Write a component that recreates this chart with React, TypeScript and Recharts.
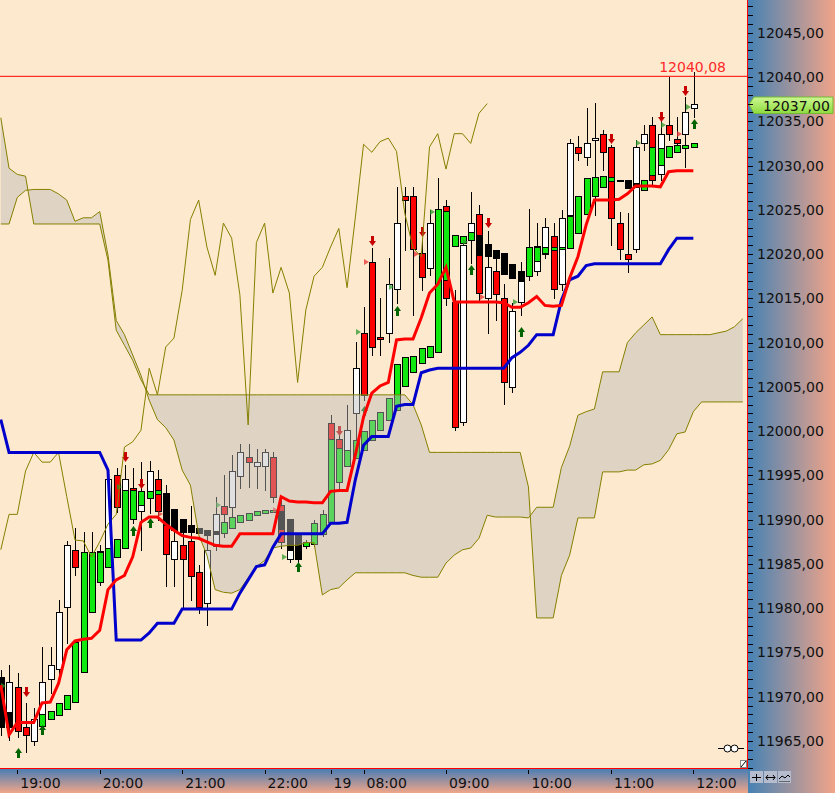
import React from 'react'
import { ComposedChart, Bar, Line, Area, XAxis, YAxis, ReferenceLine } from 'recharts'

const FONT = '"DejaVu Sans", Verdana, sans-serif'
const PLOT_BG = '#fde9cd'

// regular candles, one bar per 6 minutes
const opens = [
  11971.5, 11968.3, 11971.1, 11966.6, 11965.0, 11968.0, 11972.0, 11973.1, 11980.1, 11986.6,
  11979.8, 11982.1, 11986.0, 11986.3, 11995.0, 11993.3, 11993.6, 11991.0, 11992.4, 11994.6,
  11992.8, 11985.6, 11987.1, 11987.6, 11984.1, 11980.6, 11987.0, 11991.5, 11991.4, 11994.9,
  11997.1, 11996.1, 11996.1, 11997.1, 11991.7, 11985.6, 11987.7, 11987.0, 11987.2, 11988.4,
  12000.9, 11999.1, 11997.9, 12002.0, 12011.1, 12019.1, 12010.6, 12011.1, 12016.1, 12026.6,
  12026.6, 12020.1, 12018.4, 12020.5, 12025.4, 12014.6, 12001.0, 12021.6, 12024.5, 12015.0,
  12018.1, 12015.0, 12005.0, 12014.6, 12017.6, 12018.1, 12020.0, 12022.0, 12016.6, 12024.4,
  12032.1, 12031.0, 12032.9, 12033.6, 12032.1, 12023.5, 12020.0, 12020.6, 12032.5, 12034.6,
  12029.0, 12034.6, 12033.0, 12033.6, 12036.5,
]
const highs = [
  11973.0, 11973.6, 11972.7, 11969.3, 11968.7, 11975.6, 11975.6, 11980.9, 11987.6, 11989.1,
  11988.6, 11988.6, 11987.1, 11995.6, 11995.8, 11996.2, 11995.8, 11996.5, 11996.6, 11995.6,
  11993.9, 11988.8, 11988.8, 11991.5, 11984.9, 11988.8, 11992.6, 11995.0, 11997.3, 11998.5,
  11998.5, 11998.0, 11998.0, 11997.6, 11992.4, 11987.7, 11988.3, 11987.7, 11990.0, 11991.1,
  12001.8, 12000.1, 12003.0, 12010.1, 12014.0, 12020.7, 12015.0, 12019.6, 12027.6, 12027.6,
  12027.6, 12021.6, 12025.0, 12028.6, 12026.1, 12015.9, 12021.6, 12027.0, 12025.5, 12022.6,
  12019.7, 12016.6, 12014.5, 12019.1, 12025.1, 12023.5, 12024.1, 12023.5, 12025.0, 12033.0,
  12033.3, 12036.5, 12037.1, 12034.0, 12032.3, 12024.8, 12024.6, 12032.9, 12034.6, 12035.5,
  12035.4, 12040.0, 12035.5, 12037.7, 12040.6,
]
const lows = [
  11965.7, 11965.1, 11965.4, 11963.8, 11964.5, 11967.8, 11970.4, 11971.9, 11976.1, 11983.7,
  11979.2, 11980.9, 11982.6, 11985.4, 11990.9, 11992.8, 11989.6, 11986.6, 11990.8, 11990.0,
  11982.5, 11982.5, 11980.0, 11980.9, 11979.5, 11978.1, 11986.6, 11988.0, 11990.0, 11993.6,
  11993.7, 11993.6, 11993.3, 11992.0, 11986.8, 11985.2, 11985.2, 11986.8, 11987.0, 11988.2,
  11997.9, 11993.3, 11997.3, 11999.0, 12003.5, 12008.6, 12008.6, 12010.1, 12014.5, 12020.5,
  12013.1, 12015.9, 12017.6, 12019.3, 12014.2, 12000.1, 12000.7, 12019.0, 12014.8, 12011.1,
  12012.6, 12003.1, 12004.4, 12013.1, 12017.1, 12017.6, 12019.6, 12015.0, 12015.9, 12023.8,
  12030.6, 12030.1, 12024.4, 12029.5, 12021.0, 12019.4, 12018.0, 12020.2, 12031.8, 12027.8,
  12028.4, 12032.9, 12031.8, 12029.8, 12035.5,
]
const closes = [
  11966.8, 11971.7, 11966.1, 11965.7, 11967.5, 11971.7, 11973.6, 11979.6, 11987.1, 11984.7,
  11986.0, 11986.0, 11986.5, 11994.6, 11991.4, 11994.6, 11993.3, 11993.2, 11995.5, 11991.0,
  11986.1, 11987.6, 11985.6, 11983.6, 11980.1, 11986.6, 11990.6, 11990.6, 11995.5, 11997.6,
  11996.5, 11996.5, 11997.6, 11992.6, 11987.5, 11986.8, 11985.8, 11987.4, 11989.5, 11990.6,
  11998.2, 11998.1, 12000.1, 12007.1, 12004.1, 12009.5, 12010.4, 12016.6, 12023.5, 12026.1,
  12020.6, 12017.4, 12023.5, 12021.8, 12015.0, 12000.5, 12021.0, 12023.5, 12015.6, 12018.5,
  12015.5, 12005.5, 12013.6, 12017.5, 12018.5, 12020.9, 12023.1, 12016.1, 12024.1, 12032.5,
  12031.4, 12032.5, 12033.1, 12031.5, 12024.1, 12020.6, 12019.4, 12032.1, 12033.6, 12028.4,
  12033.6, 12033.6, 12032.5, 12036.0, 12037.0,
]

// smoothed (heikin-ashi) bodies drawn over the candles, green up / black down
const haOpen = [
  11972.2, 11968.3, null, null, null, 11966.7, 11967.5, 11967.9, 11968.6, 11969.4,
  11972.8, 11979.6, 11983.0, 11984.7, 11985.8, 11986.8, 11990.1, 11991.7, 11992.4, 11992.9,
  11993.0, 11991.2, 11990.1, 11989.4, 11989.1, 11988.8, 11988.7, 11988.5, 11989.1, 11989.7,
  11990.0, 11990.5, 11990.8, 11990.9, 11991.0, 11990.1, 11988.3, 11987.0, 11987.2, 11988.4,
  11989.7, 11994.3, 11996.1, 11997.0, 11997.9, 11999.0, 12000.1, 12001.3, 12002.4, 12005.1,
  12006.7, 12007.7, 12008.4, 12008.9, 12017.1, 12020.9, 12021.3, 12021.6, 12022.2, 12021.1,
  12020.5, 12020.1, 12018.9, 12018.1, 12017.5, 12019.2, 12020.1, 12020.5, 12020.6, 12020.7,
  12022.4, 12024.5, 12026.6, 12027.6, 12028.3, 12028.4, 12028.4, 12028.0, 12027.2, 12028.9,
  12030.1, 12031.0, 12031.5, 12032.0, 12032.1,
]
const haClose = [
  11966.6, 11966.6, null, null, null, 11968.0, 11968.4, 11969.3, 11970.2, 11976.2,
  11986.3, 11986.3, 11986.3, 11986.8, 11987.8, 11993.3, 11993.3, 11993.2, 11993.2, 11993.3,
  11989.4, 11988.8, 11988.6, 11988.6, 11988.5, 11988.3, 11988.4, 11989.7, 11990.3, 11990.5,
  11990.8, 11991.0, 11991.1, 11991.1, 11988.9, 11986.6, 11985.6, 11987.5, 11989.6, 11990.6,
  11999.1, 11998.1, 11997.9, 11999.0, 12000.0, 12001.3, 12002.2, 12003.7, 12007.6, 12008.4,
  12008.5, 12009.4, 12009.6, 12025.1, 12024.9, 12022.2, 12022.0, 12022.5, 12019.9, 12019.8,
  12019.6, 12017.7, 12017.3, 12017.0, 12020.8, 12020.8, 12020.8, 12020.8, 12020.8, 12024.3,
  12026.6, 12028.6, 12028.7, 12028.8, 12028.7, 12028.3, 12027.5, 12027.6, 12028.4, 12032.1,
  12032.0, 12032.2, 12032.3, 12032.3, 12032.5,
]

// ichimoku lines
const tenkan = [
  11971.3, 11965.7, 11967.1, 11967.1, 11967.1, 11969.3, 11969.4, 11971.5, 11975.3, 11976.3,
  11976.5, 11976.6, 11977.5, 11982.1, 11983.2, 11983.7, 11985.8, 11989.7, 11990.3, 11990.3,
  11989.5, 11988.8, 11988.2, 11988.0, 11987.9, 11987.5, 11987.1, 11987.0, 11987.0, 11988.4,
  11988.4, 11988.4, 11988.4, 11988.4, 11992.6, 11992.1, 11992.0, 11992.0, 11991.9, 11991.9,
  11993.2, 11993.3, 11993.3, 11997.3, 12001.6, 12004.3, 12005.1, 12005.5, 12010.3, 12010.4,
  12010.4, 12012.8, 12015.6, 12016.6, 12018.5, 12014.6, 12014.6, 12014.6, 12014.6, 12014.6,
  12014.6, 12014.5, 12014.0, 12014.0, 12014.5, 12015.2, 12014.2, 12014.1, 12014.2, 12017.3,
  12019.7, 12023.3, 12026.1, 12026.1, 12026.1, 12026.2, 12026.8, 12027.7, 12027.7, 12027.7,
  12027.6, 12029.3, 12029.4, 12029.4, 12029.4,
]
const kijun = [
  12001.3, 11997.6, 11997.6, 11997.6, 11997.6, 11997.6, 11997.6, 11997.6, 11997.6, 11997.6,
  11997.6, 11997.6, 11997.6, 11995.6, 11976.4, 11976.4, 11976.4, 11976.4, 11977.2, 11978.3,
  11978.3, 11978.3, 11979.9, 11979.9, 11979.9, 11979.9, 11979.9, 11979.9, 11979.9, 11981.7,
  11983.2, 11984.7, 11984.9, 11986.9, 11988.4, 11988.4, 11988.4, 11988.4, 11988.4, 11988.4,
  11989.6, 11989.6, 11989.7, 11994.5, 11998.4, 11999.4, 11999.4, 11999.4, 12002.8, 12003.0,
  12003.0, 12006.6, 12006.9, 12007.1, 12007.1, 12007.1, 12007.1, 12007.1, 12007.1, 12007.1,
  12007.1, 12007.1, 12008.3, 12008.9, 12009.7, 12010.9, 12010.9, 12010.9, 12014.8, 12017.1,
  12017.5, 12018.7, 12018.9, 12018.9, 12018.9, 12018.9, 12018.9, 12018.9, 12018.9, 12018.9,
  12018.9, 12020.5, 12021.8, 12021.8, 12021.8,
]
const spanA = [
  12023.4, 12023.4, 12026.4, 12027.2, 12027.3, 12027.3, 12027.3, 12026.8, 12026.1, 12023.7,
  12024.1, 12024.1, 12024.8, 12019.9, 12012.5, 12010.9, 12008.6, 12006.3, 12003.5, 12001.3,
  12000.4, 11999.0, 11995.6, 11993.9, 11988.3, 11986.0, 11982.1, 11981.8, 11981.7, 11982.1,
  11983.4, 11984.7, 11985.4, 11986.8, 11987.0, 11987.1, 11987.1, 11987.4, 11987.4, 11981.5,
  11982.1, 11982.3, 11983.2, 11984.0, 11984.0, 11984.0, 11984.0, 11984.0, 11984.0, 11984.0,
  11983.7, 11983.5, 11983.5, 11983.5, 11985.1, 11986.0, 11986.6, 11986.8, 11987.9, 11990.5,
  11990.3, 11990.3, 11990.3, 11990.3, 11990.2, 11991.4, 11991.4, 11991.4, 11995.9, 11998.3,
  12001.8, 12002.2, 12002.5, 12006.7, 12006.7, 12006.7, 12010.0, 12011.1, 12012.0, 12012.9,
  12010.9, 12010.9, 12010.9, 12010.9, 12010.9, 12010.9, 12010.9, 12011.1, 12011.3, 12011.8,
  12012.7,
]
const spanB = [
  12035.4, 12029.7, 12029.0, 12028.8, 12023.4, 12023.4, 12023.4, 12023.4, 12023.4, 12023.4,
  12023.4, 12023.4, 12023.4, 12019.3, 12011.4, 12009.7, 12008.0, 12005.8, 12004.1, 12004.1,
  12004.1, 12004.1, 12004.1, 12004.1, 12004.1, 12004.1, 12004.1, 12004.1, 12004.1, 12004.1,
  12004.1, 12004.1, 12004.1, 12004.1, 12004.1, 12004.1, 12004.1, 12004.1, 12004.1, 12004.1,
  12004.1, 12004.1, 12004.1, 12004.1, 12004.1, 12004.1, 12004.1, 12004.1, 12004.1, 12004.1,
  12003.0, 12000.7, 11997.6, 11997.6, 11997.6, 11997.6, 11997.6, 11997.6, 11997.6, 11997.6,
  11997.6, 11997.6, 11997.6, 11997.6, 11993.7, 11978.9, 11978.9, 11978.9, 11983.7, 11986.0,
  11990.2, 11990.2, 11990.2, 11995.4, 11995.4, 11995.4, 11995.6, 11995.6, 11996.2, 11996.3,
  11996.7, 11997.9, 11999.7, 11999.9, 12002.2, 12003.3, 12003.3, 12003.3, 12003.3, 12003.3,
  12003.3,
]
const chikou = [
  11986.6, 11990.6, 11990.6, 11995.5, 11997.6, 11996.5, 11996.5, 11997.6, 11992.6, 11987.7,
  11987.6, 11985.8, 11987.5, 11989.5, 11990.6, 11998.2, 11998.8, 12000.1, 12007.1, 12004.1,
  12009.5, 12010.5, 12015.9, 12023.9, 12026.1, 12020.8, 12017.6, 12023.5, 12021.8, 12015.4,
  12000.7, 12021.3, 12023.5, 12015.6, 12018.5, 12015.6, 12005.5, 12013.7, 12017.5, 12018.5,
  12020.8, 12022.9, 12016.2, 12024.1, 12032.4, 12031.5, 12032.7, 12033.1, 12031.6, 12024.6,
  12020.7, 12019.7, 12032.1, 12033.6, 12029.6, 12033.6, 12033.6, 12032.5, 12035.9, 12037.0,
]

const xTickIdx = [2, 12, 22, 32, 40, 44, 54, 64, 74, 84]
const xTickLabels = ['19:00', '20:00', '21:00', '22:00', '19', '08:00', '09:00', '10:00', '11:00', '12:00']

// signals: [bar, price]
const sellArrows = [
  [3, 11970.5], [15, 11997.1], [17, 11994.0], [41, 12000.0], [45, 12021.5],
  [51, 12022.5], [59, 12023.5], [74, 12033.0], [80, 12035.5], [83, 12038.4],
]
const buyArrows = [
  [2, 11963.7], [5, 11966.2], [16, 11988.7], [18, 11989.6], [36, 11984.7],
  [44, 12002.3], [48, 12013.6], [57, 12018.2], [63, 12011.2], [84, 12034.7],
]
const greenMarks = [
  [1, 11971.2], [15, 11993.7], [27, 11991.7], [35, 11985.8], [44, 12011.2], [48, 12016.3],
  [53, 12024.8], [57, 12021.4], [63, 12014.6], [78, 12032.5], [81, 12034.6], [84, 12036.6],
]
const redMarks = [
  [20, 11990.6], [34, 11991.1], [45, 12019.1], [51, 12020.0], [59, 12015.1], [83, 12033.6],
]

const HIGH_LINE = 12040.08
const LAST_PRICE = 12037.0
const Y_MIN = 11961.95
const Y_MAX = 12048.7

const yTicks: number[] = []
for (let v = 11962; v <= 12048; v++) yTicks.push(v)

const data = spanA.map((_, i) => ({
  i,
  o: opens[i] ?? null,
  h: highs[i] ?? null,
  l: lows[i] ?? null,
  c: closes[i] ?? null,
  ho: haOpen[i] ?? null,
  hc: haClose[i] ?? null,
  tenkan: tenkan[i] ?? null,
  kijun: kijun[i] ?? null,
  spanA: spanA[i],
  spanB: spanB[i],
  chikou: chikou[i] ?? null,
}))

const findAt = (list: number[][], i: number) => list.filter((s) => s[0] === i)

function Candle(props: any) {
  const { x, y, width, height, payload } = props
  if (!payload || payload.o == null || !height) return null
  const { o, h, l, c, ho, hc, i } = payload
  const top = Math.min(y, y + height)
  const k = Math.abs(height) / (h - l)
  const py = (v: number) => Math.round(top + (h - v) * k)
  const cx = Math.round(x + width / 2)
  const out: any[] = []

  out.push(<line key="w" x1={cx + 0.5} x2={cx + 0.5} y1={py(h)} y2={py(l) + 1} stroke="#000" />)
  const bt = py(Math.max(o, c))
  const bb = py(Math.min(o, c))
  if (bb - bt < 1) {
    out.push(<line key="d" x1={cx - 3} x2={cx + 4} y1={bt + 0.5} y2={bt + 0.5} stroke="#000" />)
  } else {
    out.push(
      <rect key="b" x={cx - 2.5} y={bt + 0.5} width={6} height={bb - bt}
        fill={c >= o ? '#ffffff' : '#ff0000'} stroke="#000" />
    )
  }

  if (ho != null && hc != null) {
    const t = py(Math.max(ho, hc))
    const b = py(Math.min(ho, hc))
    const up = hc >= ho
    out.push(
      <rect key="ha" x={cx - 2.5} y={t + 0.5} width={6} height={Math.max(b - t, 1)}
        fill={up ? '#10e810' : '#000000'} stroke="#000" />
    )
  }

  findAt(sellArrows, i).forEach((s, n) => {
    const ay = py(s[1])
    out.push(
      <g key={'s' + n} fill="#c80000">
        <rect x={cx - 1} y={ay - 5} width={3} height={5} />
        <polygon points={`${cx - 3},${ay} ${cx + 4},${ay} ${cx + 0.5},${ay + 5}`} />
      </g>
    )
  })
  findAt(buyArrows, i).forEach((s, n) => {
    const ay = py(s[1])
    out.push(
      <g key={'b' + n} fill="#006400">
        <polygon points={`${cx - 3},${ay} ${cx + 4},${ay} ${cx + 0.5},${ay - 5}`} />
        <rect x={cx - 1} y={ay} width={3} height={5} />
      </g>
    )
  })
  findAt(greenMarks, i).forEach((s, n) => {
    const my = py(s[1])
    out.push(
      <polygon key={'g' + n} points={`${cx - 8},${my - 3} ${cx - 3},${my} ${cx - 8},${my + 3}`}
        fill="#2a9a2a" fillOpacity={0.75} />
    )
  })
  findAt(redMarks, i).forEach((s, n) => {
    const my = py(s[1])
    out.push(
      <polygon key={'r' + n} points={`${cx - 8},${my - 3} ${cx - 3},${my} ${cx - 8},${my + 3}`}
        fill="#e83030" fillOpacity={0.75} />
    )
  })
  return <g>{out}</g>
}

function XTick(props: any) {
  const { x, y, payload } = props
  const k = xTickIdx.indexOf(payload.value)
  const lx = Math.round(x) + 0.5
  return (
    <g>
      <line x1={lx} x2={lx} y1={y + 2} y2={y + 6} stroke="#000" />
      <text x={x + 3} y={y + 20} fontSize={14} fontFamily={FONT} fill="#111">
        {k >= 0 ? xTickLabels[k] : ''}
      </text>
    </g>
  )
}

function YTick(props: any) {
  const { x, y, payload } = props
  const v = payload.value
  const ty = Math.round(y) + 0.5
  const major = Math.round(v) % 5 === 0
  return (
    <g>
      <line x1={x + 1} x2={x + 6} y1={ty} y2={ty} stroke="#000" />
      {major && (
        <text x={x + 10} y={y + 5} fontSize={14} fontFamily={FONT} fill="#111">
          {v.toFixed(2).replace('.', ',')}
        </text>
      )}
    </g>
  )
}

function HighLabel(props: any) {
  const { viewBox } = props
  return (
    <text x={viewBox.x + viewBox.width - 21} y={viewBox.y - 4.5} textAnchor="end"
      fontSize={14} fontFamily={FONT} fill="#ff2828">
      {HIGH_LINE.toFixed(2).replace('.', ',')}
    </text>
  )
}

function LastLabel(props: any) {
  const { viewBox } = props
  const y = Math.round(viewBox.y) + 0.5
  const x0 = viewBox.x + viewBox.width + 2
  return (
    <g>
      <defs>
        <linearGradient id="lastGrad" x1="0" y1="0" x2="0" y2="1">
          <stop offset="0" stopColor="#cdf792" />
          <stop offset="1" stopColor="#8edb3e" />
        </linearGradient>
      </defs>
      <polygon
        points={`${x0},${y} ${x0 + 5},${y - 7.5} ${x0 + 84},${y - 7.5} ${x0 + 84},${y + 9} ${x0 + 5},${y + 9}`}
        fill="url(#lastGrad)" stroke="#74b834" />
      <text x={x0 + 14} y={y + 6.5} fontSize={14} fontFamily={FONT} fill="#111">
        {LAST_PRICE.toFixed(2).replace('.', ',')}
      </text>
    </g>
  )
}

export default function App() {
  return (
    <div style={{ position: 'absolute', left: 0, top: 0, width: 835, height: 793, overflow: 'hidden', fontFamily: FONT }}>
      <div style={{ position: 'absolute', left: 0, top: 0, width: 747, height: 768, background: PLOT_BG }} />
      <div style={{ position: 'absolute', left: 748, top: 0, width: 87, height: 793, background: 'linear-gradient(90deg, #4682b4 0%, #f2a488 100%)' }} />
      <div style={{ position: 'absolute', left: 0, top: 769, width: 748, height: 24, background: 'linear-gradient(180deg, #4a7db4 0%, #f2a688 100%)' }} />
      <div style={{ position: 'absolute', left: 747, top: 0, width: 1, height: 769, background: '#ff0000' }} />
      <div style={{ position: 'absolute', left: 0, top: 768, width: 748, height: 1, background: '#ff0000' }} />

      <div style={{ position: 'absolute', left: 0, top: 0 }}>
        <ComposedChart width={835} height={793} data={data} margin={{ top: 0, right: 0, bottom: 0, left: 0 }}>
          <XAxis dataKey="i" type="number" domain={[-0.097, 90.51]} allowDataOverflow
            ticks={xTickIdx} interval={0} tick={<XTick />} tickLine={false} axisLine={false}
            tickSize={0} tickMargin={0} height={25} />
          <YAxis orientation="right" type="number" domain={[Y_MIN, Y_MAX]} allowDataOverflow
            ticks={yTicks} interval={0} tick={<YTick />} tickLine={false} axisLine={false}
            tickSize={0} tickMargin={0} width={88} />
          <Bar dataKey={(d: any) => (d.o == null ? null : [d.l, d.h])} barSize={7}
            shape={<Candle />} activeBar={false} isAnimationActive={false} />
          <Area dataKey={(d: any) => [d.spanA, d.spanB]} type="linear" stroke="none"
            fill="#bbbbbb" fillOpacity={0.45} activeDot={false} isAnimationActive={false} zIndex={350} />
          <Line dataKey="spanA" type="linear" stroke="#858000" strokeWidth={1} dot={false} activeDot={false} isAnimationActive={false} />
          <Line dataKey="spanB" type="linear" stroke="#858000" strokeWidth={1} dot={false} activeDot={false} isAnimationActive={false} />
          <Line dataKey="chikou" type="linear" stroke="#858000" strokeWidth={1} dot={false} activeDot={false} isAnimationActive={false} />
          <Line dataKey="kijun" type="linear" stroke="#0000cc" strokeWidth={3} dot={false} activeDot={false} isAnimationActive={false} />
          <Line dataKey="tenkan" type="linear" stroke="#ff0000" strokeWidth={3} dot={false} activeDot={false} isAnimationActive={false} />
          <ReferenceLine y={HIGH_LINE} stroke="#ff0000" strokeWidth={1} label={HighLabel} />
          <ReferenceLine y={LAST_PRICE} stroke="none" label={LastLabel} />
        </ComposedChart>
      </div>

      <svg style={{ position: 'absolute', left: 716, top: 742 }} width={30} height={12}>
        <line x1={2} x2={28} y1={6.5} y2={6.5} stroke="#000" />
        <circle cx={11.5} cy={6.5} r={3.5} fill="#fff" stroke="#000" />
        <circle cx={18.5} cy={6.5} r={3.5} fill="#fff" stroke="#000" />
      </svg>
      <svg style={{ position: 'absolute', left: 740, top: 760 }} width={8} height={8}>
        <rect x={0.5} y={0.5} width={6} height={7} fill="#fff" stroke="#888" />
        <line x1={1} y1={7} x2={6} y2={1} stroke="#000" />
      </svg>
      <svg style={{ position: 'absolute', left: 750, top: 771 }} width={42} height={12}>
        <rect x={0} y={0} width={13} height={12} fill="#b4bccd" />
        <rect x={14} y={0} width={13} height={12} fill="#b4bccd" />
        <rect x={28} y={0} width={13} height={12} fill="#b4bccd" />
        <line x1={2} x2={11} y1={6.5} y2={6.5} stroke="#000" />
        <line x1={6.5} x2={6.5} y1={3} y2={10} stroke="#000" />
        <line x1={16} x2={25} y1={6.5} y2={6.5} stroke="#000" />
        <polyline points="18,4 16,6.5 18,9" fill="none" stroke="#000" />
        <polyline points="23,4 25,6.5 23,9" fill="none" stroke="#000" />
        <polyline points="29,8 32,5 35,7 38,4 40,6" fill="none" stroke="#000" />
        <line x1={29} x2={40} y1={10.5} y2={10.5} stroke="#666" />
      </svg>
    </div>
  )
}
